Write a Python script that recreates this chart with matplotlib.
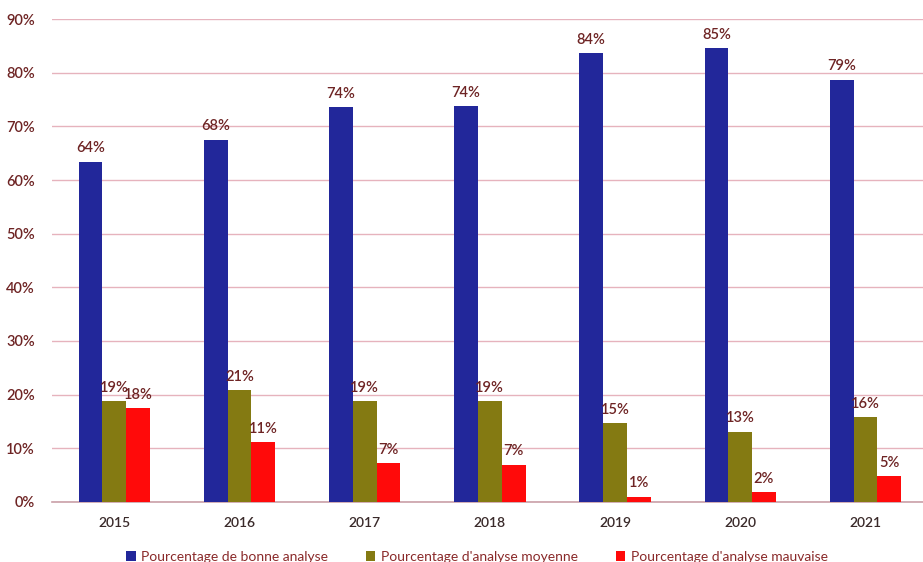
import matplotlib
matplotlib.use('Agg')
import matplotlib.pyplot as plt
import numpy as np

plt.rcParams['font.family'] = ['Lato', 'DejaVu Sans']

years = ['2015', '2016', '2017', '2018', '2019', '2020', '2021']
bonne = [0.634, 0.675, 0.736, 0.738, 0.836, 0.846, 0.787]
moyenne = [0.188, 0.208, 0.188, 0.188, 0.147, 0.131, 0.158]
mauvaise = [0.175, 0.111, 0.072, 0.069, 0.010, 0.018, 0.048]
labels_bonne = ['64%', '68%', '74%', '74%', '84%', '85%', '79%']
labels_moy = ['19%', '21%', '19%', '19%', '15%', '13%', '16%']
labels_mau = ['18%', '11%', '7%', '7%', '1%', '2%', '5%']

series = [
    ('Pourcentage de bonne analyse', bonne, labels_bonne, '#22279A'),
    ("Pourcentage d'analyse moyenne", moyenne, labels_moy, '#847A12'),
    ("Pourcentage d'analyse mauvaise", mauvaise, labels_mau, '#FF0A0A'),
]

fig = plt.figure(figsize=(9.23, 5.62), dpi=100)
ax = fig.add_axes([0.056, 0.107, 0.944, 0.859])

x = np.arange(len(years))
w = 0.19
txt_color = '#6E2424'
for i, (name, vals, labs, color) in enumerate(series):
    pos = x + (i - 1) * w
    ax.bar(pos, vals, width=w, color=color, label=name, zorder=3)
    for p, v, l in zip(pos, vals, labs):
        ax.text(p, v + 0.012, l, ha='center', va='bottom', fontsize=10.5,
                color=txt_color, fontweight='semibold', zorder=4)

ax.set_xlim(-0.5, 6.46)
ax.set_ylim(0, 0.9)
ax.set_yticks(np.arange(0, 0.91, 0.1))
ax.set_yticklabels([f'{int(round(t * 100))}%' for t in np.arange(0, 0.91, 0.1)])
ax.set_xticks(x)
ax.set_xticklabels(years)
ax.tick_params(axis='y', length=0, pad=12, labelsize=10.5, labelcolor=txt_color)
ax.tick_params(axis='x', length=0, pad=11, labelsize=10, labelcolor='#3a2a2a')
for t in ax.get_xticklabels() + ax.get_yticklabels():
    t.set_fontweight('semibold')
ax.grid(axis='y', color='#E6B3BD', linewidth=1, zorder=0)
for s in ['top', 'right', 'left']:
    ax.spines[s].set_visible(False)
ax.spines['bottom'].set_color('#C9A0A8')
ax.spines['bottom'].set_linewidth(1.2)

ax.legend(loc='lower center', bbox_to_anchor=(0.488, -0.147), ncol=3,
          frameon=False, fontsize=10, handlelength=0.7, handleheight=0.7,
          handletextpad=0.4, columnspacing=2.7, labelcolor='#8A2A2A',
          borderpad=0.2)

fig.savefig('out.png', dpi=100)
